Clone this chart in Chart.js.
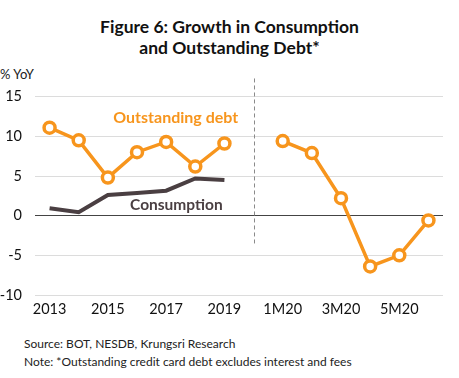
<!DOCTYPE html>
<html><head><meta charset="utf-8">
<script src="https://cdn.jsdelivr.net/npm/chart.js@4/dist/chart.umd.min.js"></script>
<style>
html,body{margin:0;padding:0;background:#fff;width:459px;height:378px;overflow:hidden;font-family:Lato,"Open Sans",sans-serif;}
#title{position:absolute;left:0;top:16px;width:459px;text-align:center;font-weight:bold;font-size:17.5px;line-height:21px;color:#111;}
#unit{position:absolute;left:0;top:66px;font-size:13px;color:#222;}
#foot{position:absolute;left:24px;top:335px;font-size:12px;line-height:18px;color:#222;}
#wrap{position:absolute;left:0;top:75px;width:459px;height:250px;}
</style></head>
<body>
<div id="title">Figure 6: Growth in Consumption<br>and Outstanding Debt*</div>
<div id="unit">% YoY</div>
<div id="wrap"><canvas id="c"></canvas></div>
<div id="foot">Source: BOT, NESDB, Krungsri Research<br>Note: *Outstanding credit card debt excludes interest and fees</div>
<script>
const categories = ['2013','2014','2015','2016','2017','2018','2019','','1M20','2M20','3M20','4M20','5M20','6M20'];
const outstandingDebt = [11.1, 9.5, 4.8, 8.0, 9.3, 6.2, 9.1, null, 9.4, 7.9, 2.2, -6.4, -5.0, -0.6];
const consumption = [0.95, 0.45, 2.6, 2.85, 3.15, 4.7, 4.5, null, null, null, null, null, null, null];
const yTicks = {min: -10, max: 15, step: 5};
const dividerIndex = 7;
const dividerRange = [-3.5, 17.3];
const debtLabel = {text: 'Outstanding debt', x: 4.33, y: 12.3};
const consLabel = {text: 'Consumption', x: 4.35, y: 1.3};

const ORANGE = '#F7951D';
const DARK = '#4A3F42';

const overlay = {
  id: 'overlay',
  afterDatasetsDraw(chart) {
    const {ctx, scales: {x, y}} = chart;
    ctx.save();
    const px = x.getPixelForValue(dividerIndex);
    ctx.strokeStyle = '#8a8a8a';
    ctx.lineWidth = 1;
    ctx.setLineDash([4, 3]);
    ctx.beginPath();
    ctx.moveTo(Math.round(px) + 0.5, y.getPixelForValue(dividerRange[1]));
    ctx.lineTo(Math.round(px) + 0.5, y.getPixelForValue(dividerRange[0]));
    ctx.stroke();
    ctx.setLineDash([]);
    ctx.textAlign = 'center';
    ctx.textBaseline = 'middle';
    ctx.font = 'bold 16px Lato';
    ctx.fillStyle = ORANGE;
    ctx.fillText(debtLabel.text, x.getPixelForValue(debtLabel.x), y.getPixelForValue(debtLabel.y));
    ctx.fillStyle = DARK;
    ctx.font = 'bold 15.5px Lato';
    ctx.fillText(consLabel.text, x.getPixelForValue(consLabel.x), y.getPixelForValue(consLabel.y));
    ctx.restore();
  }
};

new Chart(document.getElementById('c'), {
  type: 'line',
  data: {
    labels: categories,
    datasets: [
      {label: 'Consumption', data: consumption, borderColor: DARK, borderWidth: 4, pointRadius: 0, pointHoverRadius: 0, tension: 0, spanGaps: false},
      {label: 'Outstanding debt', data: outstandingDebt, borderColor: ORANGE, borderWidth: 3.5, pointRadius: 5.5, pointBorderWidth: 3.5, pointBackgroundColor: '#fff', pointBorderColor: ORANGE, tension: 0, spanGaps: false}
    ]
  },
  options: {
    responsive: true,
    maintainAspectRatio: false,
    animation: false,
    layout: {padding: {top: 0, right: 16, left: 0, bottom: 0}},
    plugins: {legend: {display: false}, tooltip: {enabled: false}},
    scales: {
      x: {
        offset: true,
        grid: {display: false, drawTicks: false},
        border: {display: false},
        ticks: {autoSkip: false, maxRotation: 0, padding: 6, color: '#111', font: {family: 'Lato', size: 14.5},
          callback: function(v, i) { return i % 2 === 0 ? categories[i] : ''; }},
        afterFit(s) { s.height = 30; }
      },
      y: {
        min: yTicks.min, max: yTicks.max,
        grid: {drawTicks: false, color: ctx => ctx.tick && ctx.tick.value === 0 ? '#444' : '#dcdcdc', lineWidth: 1},
        border: {display: false},
        ticks: {stepSize: yTicks.step, padding: 13, color: '#111', font: {family: 'Lato', size: 14.5}},
        afterFit(s) { s.width = 35; }
      }
    }
  },
  plugins: [overlay]
});
</script>
</body></html>
